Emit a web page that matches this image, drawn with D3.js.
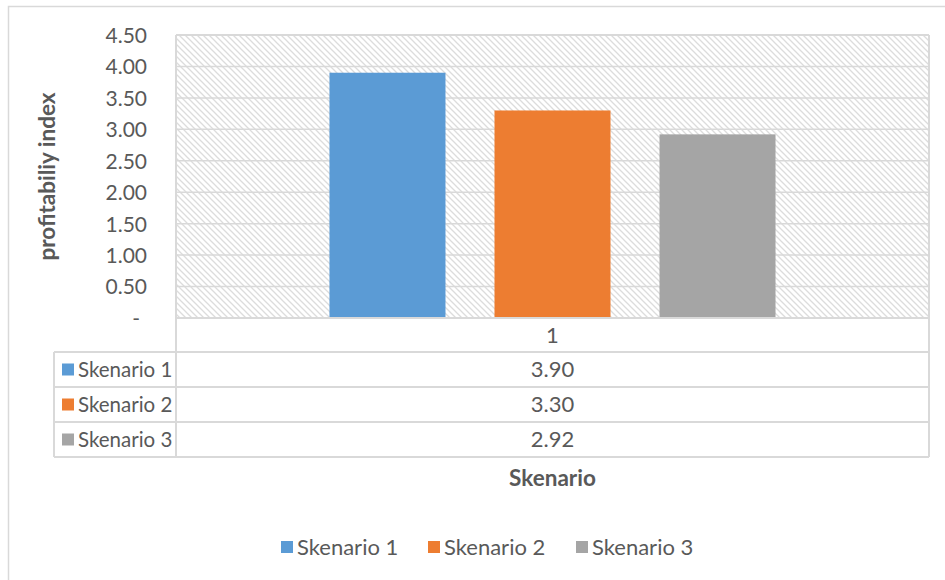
<!DOCTYPE html>
<html>
<head>
<meta charset="utf-8">
<script src="https://cdn.jsdelivr.net/npm/d3@7"></script>
<style>
  html, body { margin: 0; padding: 0; background: #fff; }
  svg { display: block; font-family: Lato, "Noto Sans", sans-serif; }
</style>
</head>
<body>
<svg id="chart" width="945" height="580"></svg>
<script>
// Chart data
const categories = ["1"];
const seriesNames = ["Skenario 1", "Skenario 2", "Skenario 3"];
const seriesValues = [3.90, 3.30, 2.92];
const seriesColors = ["#5B9BD5", "#ED7D31", "#A5A5A5"];
const yTicks = [0, 0.5, 1, 1.5, 2, 2.5, 3, 3.5, 4, 4.5];
const yTitle = "profitabiliy index";
const xTitle = "Skenario";

const svg = d3.select("#chart");
const textColor = "#595959";
const lineColor = "#d9d9d9";
const fs = 22;

// Plot frame
const plot = { left: 176, right: 929, top: 35, bottom: 318 };
const tableLeft = 54;
const rowH = 35;

// Outer chart border
svg.append("rect")
  .attr("x", 8.5).attr("y", 6.5)
  .attr("width", 945).attr("height", 580)
  .attr("fill", "#fff").attr("stroke", lineColor).attr("stroke-width", 1.5);

// Diagonal hatch for the plot background
const defs = svg.append("defs");
const pat = defs.append("pattern")
  .attr("id", "hatch").attr("patternUnits", "userSpaceOnUse")
  .attr("width", 6).attr("height", 6);
pat.append("rect").attr("width", 6).attr("height", 6).attr("fill", "#fff");
pat.append("path")
  .attr("d", "M0,0L6,6M-3,3L3,9M3,-3L9,3")
  .attr("stroke", "#dcdcdc").attr("stroke-width", 1.3);

svg.append("rect")
  .attr("x", plot.left).attr("y", plot.top)
  .attr("width", plot.right - plot.left).attr("height", plot.bottom - plot.top)
  .attr("fill", "url(#hatch)");

// Scales
const y = d3.scaleLinear().domain([0, 4.5]).range([plot.bottom, plot.top]);
const x0 = d3.scaleBand().domain(categories)
  .range([plot.left, plot.right]).paddingInner(0.256).paddingOuter(0.256);
const x1 = d3.scaleBand().domain(seriesNames)
  .range([0, x0.bandwidth()]).paddingInner(0.297).paddingOuter(0);

// Gridlines
svg.append("g").selectAll("line")
  .data(yTicks.filter(d => d > 0))
  .join("line")
  .attr("x1", plot.left).attr("x2", plot.right)
  .attr("y1", d => y(d)).attr("y2", d => y(d))
  .attr("stroke", lineColor).attr("stroke-width", 1.5);

// Y axis labels
const yAxis = d3.axisLeft(y).tickValues(yTicks).tickSize(0).tickPadding(0)
  .tickFormat(d => d === 0 ? "-" : d3.format(".2f")(d));
const gy = svg.append("g").attr("transform", `translate(147,0)`).call(yAxis);
gy.select(".domain").remove();
gy.selectAll("text")
  .attr("fill", textColor).attr("font-size", 21).attr("font-family", "Lato, sans-serif")
  .attr("dy", "0.35em");
gy.selectAll(".tick").filter(d => d === 0).select("text").attr("dx", -7);

// Bars
svg.append("g").selectAll("rect")
  .data(seriesNames.map((name, i) => ({ name, value: seriesValues[i], color: seriesColors[i], cat: categories[0] })))
  .join("rect")
  .attr("x", d => x0(d.cat) + x1(d.name))
  .attr("y", d => y(d.value))
  .attr("width", x1.bandwidth())
  .attr("height", d => y(0) - y(d.value))
  .attr("fill", d => d.color);

// Data table
const tableTop = plot.bottom;
const rowEdges = [tableTop, tableTop + 34, tableTop + 34 + rowH, tableTop + 34 + 2 * rowH, tableTop + 34 + 3 * rowH];
const tbl = svg.append("g");
// Horizontal lines
tbl.append("line").attr("x1", plot.left).attr("x2", plot.right)
  .attr("y1", rowEdges[0]).attr("y2", rowEdges[0]);
rowEdges.slice(1).forEach(yy => {
  tbl.append("line").attr("x1", tableLeft).attr("x2", plot.right)
    .attr("y1", yy).attr("y2", yy);
});
// Vertical lines
tbl.append("line").attr("x1", plot.left).attr("x2", plot.left)
  .attr("y1", plot.top).attr("y2", rowEdges[4]);
tbl.append("line").attr("x1", plot.right).attr("x2", plot.right)
  .attr("y1", plot.top).attr("y2", rowEdges[4]);
tbl.append("line").attr("x1", tableLeft).attr("x2", tableLeft)
  .attr("y1", rowEdges[1]).attr("y2", rowEdges[4]);
// Plot top border
tbl.append("line").attr("x1", plot.left).attr("x2", plot.right)
  .attr("y1", plot.top).attr("y2", plot.top);
tbl.selectAll("line").attr("stroke", lineColor).attr("stroke-width", 2);

const midX = x0(categories[0]) + x0.bandwidth() / 2;
// Category label row
tbl.append("text")
  .attr("x", midX).attr("y", (rowEdges[0] + rowEdges[1]) / 2)
  .attr("dy", "0.35em").attr("text-anchor", "middle")
  .attr("fill", textColor).attr("font-size", fs).text(categories[0]);

// Series rows
seriesNames.forEach((name, i) => {
  const cy = (rowEdges[i + 1] + rowEdges[i + 2]) / 2;
  tbl.append("rect")
    .attr("x", 62).attr("y", cy - 6).attr("width", 12).attr("height", 12)
    .attr("fill", seriesColors[i]);
  tbl.append("text")
    .attr("x", 78).attr("y", cy).attr("dy", "0.35em")
    .attr("fill", textColor).attr("font-size", 20.5).text(name);
  tbl.append("text")
    .attr("x", midX).attr("y", cy).attr("dy", "0.35em").attr("text-anchor", "middle")
    .attr("fill", textColor).attr("font-size", fs).text(d3.format(".2f")(seriesValues[i]));
});

// Axis titles
svg.append("text")
  .attr("transform", `translate(47,${(plot.top + plot.bottom) / 2}) rotate(-90)`)
  .attr("dy", "0.35em").attr("text-anchor", "middle")
  .attr("fill", textColor).attr("font-size", 22.5).attr("font-weight", "bold")
  .text(yTitle);

svg.append("text")
  .attr("x", midX).attr("y", 478).attr("dy", "0.35em").attr("text-anchor", "middle")
  .attr("fill", textColor).attr("font-size", 22.5).attr("font-weight", "bold")
  .text(xTitle);

// Legend
const legendX = [281, 428, 576];
const lg = svg.append("g");
seriesNames.forEach((name, i) => {
  lg.append("rect")
    .attr("x", legendX[i]).attr("y", 541).attr("width", 12).attr("height", 12)
    .attr("fill", seriesColors[i]);
  lg.append("text")
    .attr("x", legendX[i] + 16).attr("y", 547).attr("dy", "0.35em")
    .attr("fill", textColor).attr("font-size", fs).text(name);
});
</script>
</body>
</html>
